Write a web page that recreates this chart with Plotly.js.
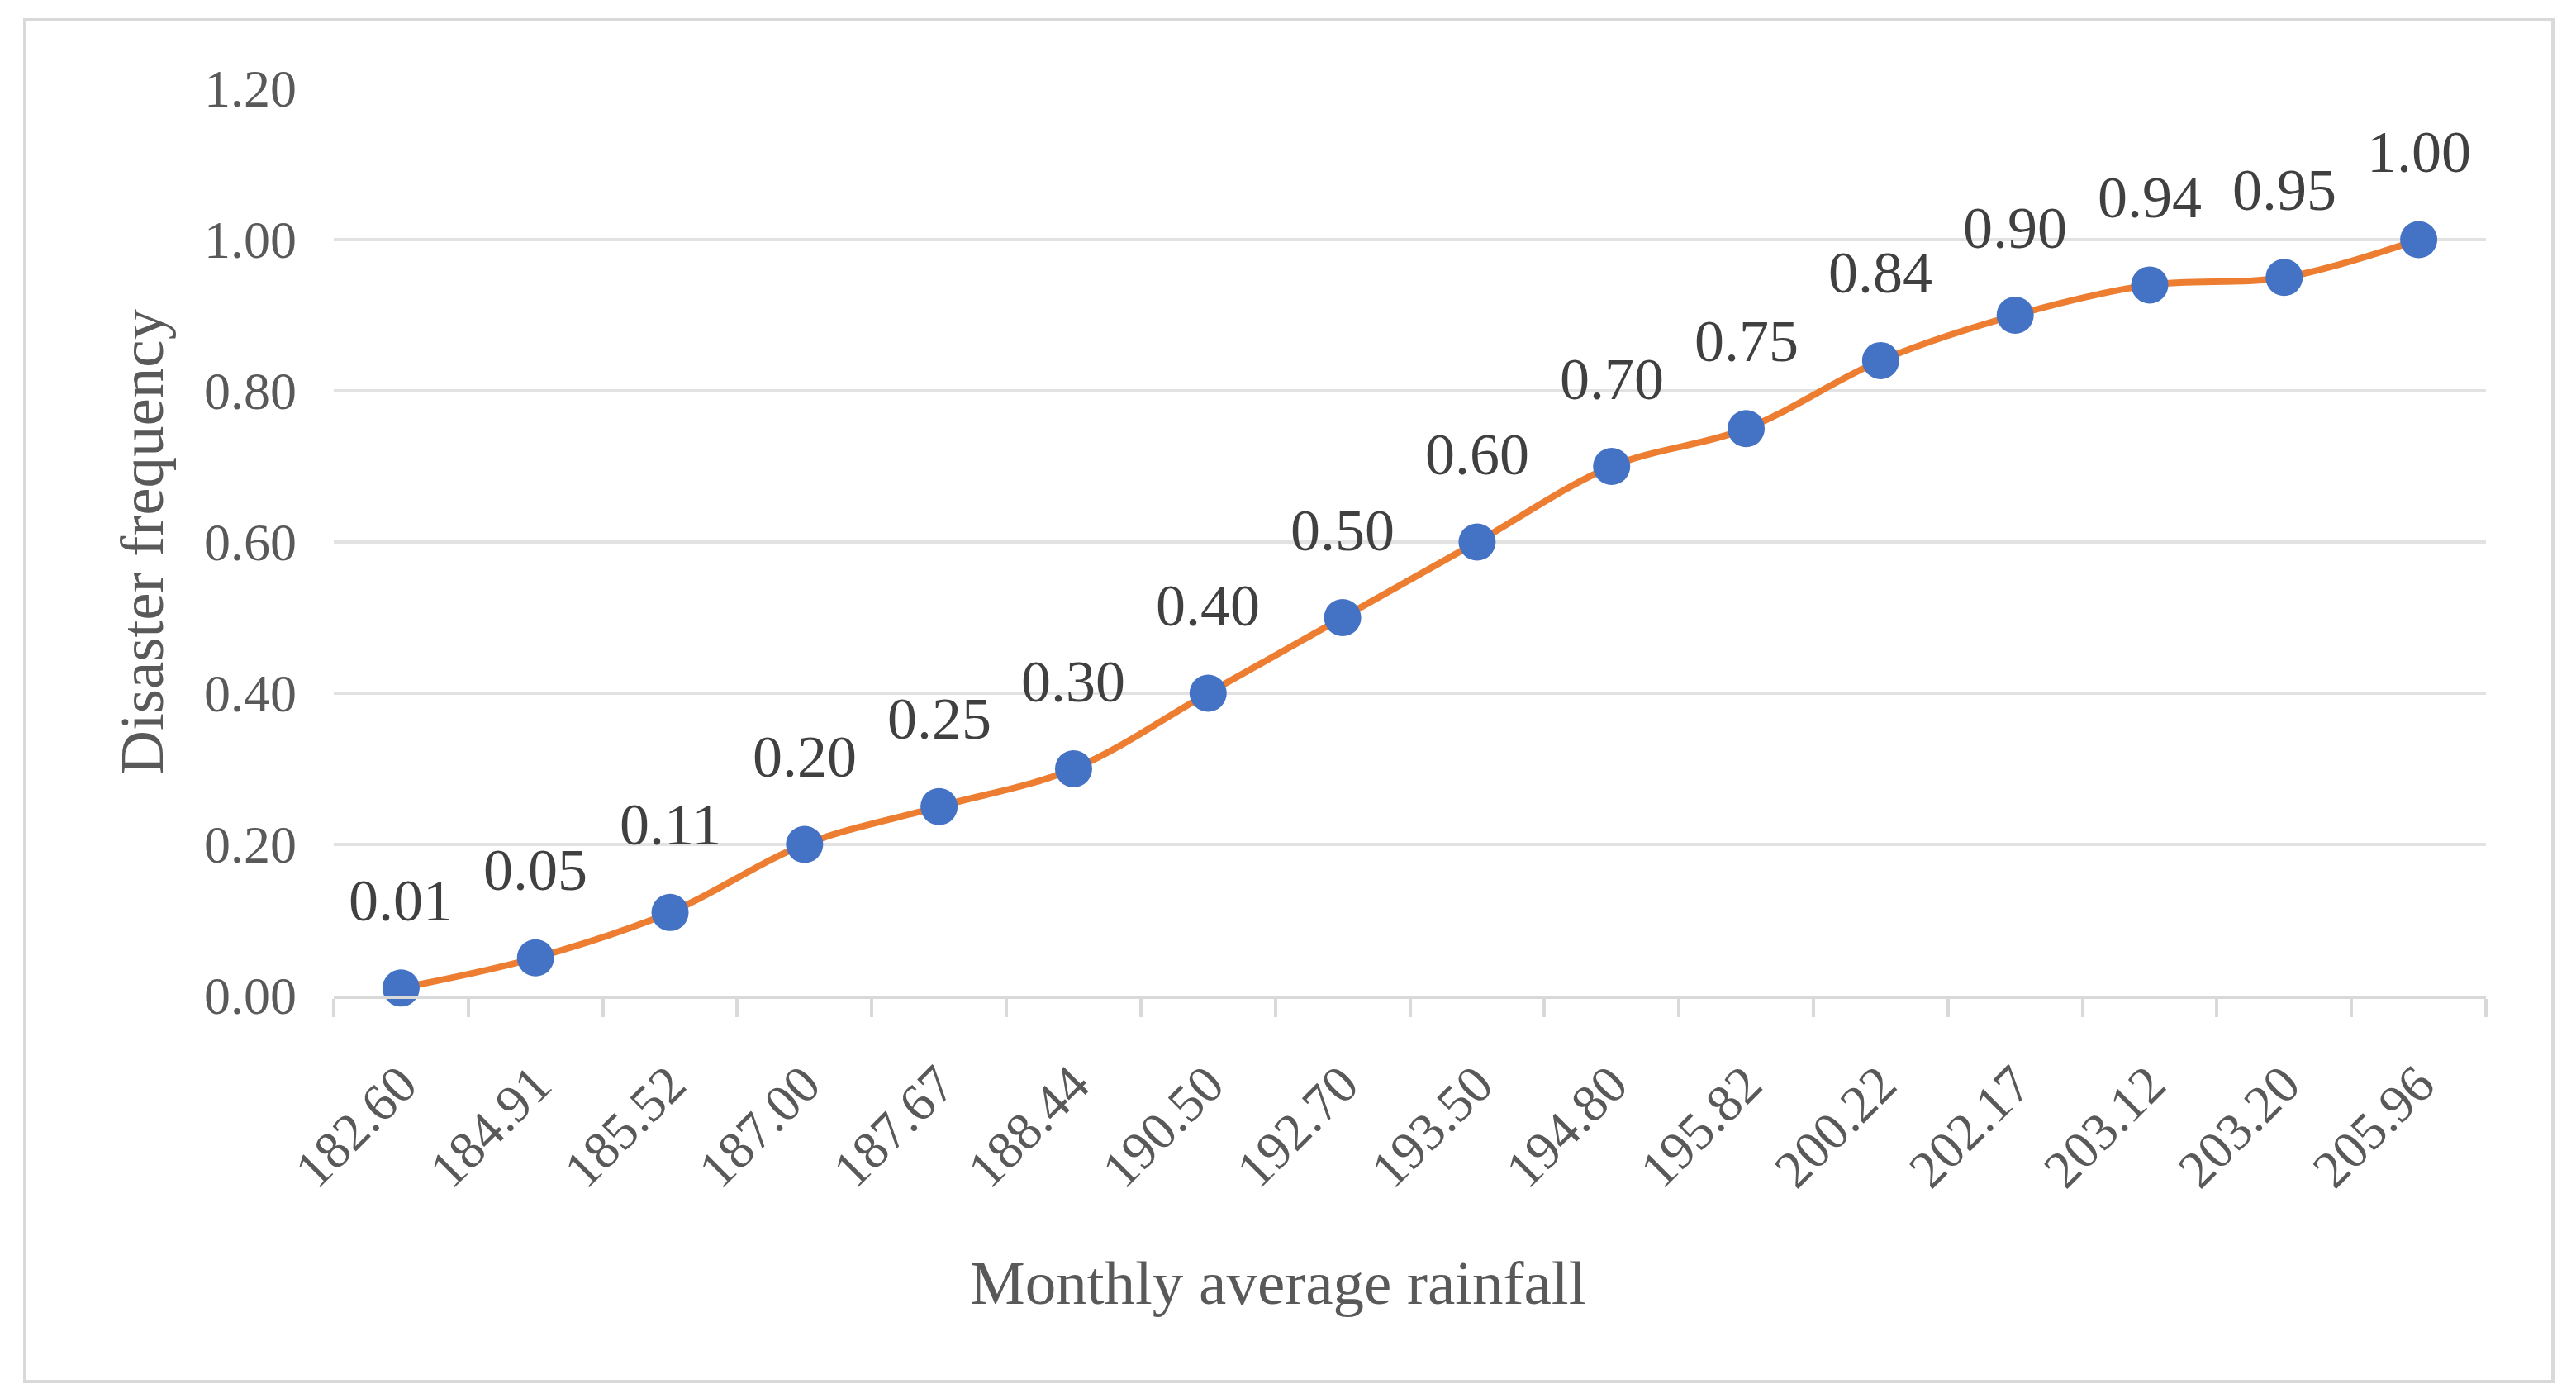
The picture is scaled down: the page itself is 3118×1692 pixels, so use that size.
<!DOCTYPE html>
<html>
<head>
<meta charset="utf-8">
<script src="https://cdn.plot.ly/plotly-3.0.1.min.js"></script>
<style>
html,body{margin:0;padding:0;background:#fff;}
#chart{width:3118px;height:1692px;}
</style>
</head>
<body>
<div id="chart"></div>
<script>
const categories = ["182.60","184.91","185.52","187.00","187.67","188.44","190.50","192.70","193.50","194.80","195.82","200.22","202.17","203.12","203.20","205.96"];
const frequency = [0.01,0.05,0.11,0.20,0.25,0.30,0.40,0.50,0.60,0.70,0.75,0.84,0.90,0.94,0.95,1.00];
const yTicks = [0,0.2,0.4,0.6,0.8,1.0,1.2];
const xTitle = "Monthly average rainfall";
const yTitle = "Disaster frequency";

const FONT = "Liberation Serif, Times New Roman, serif";

const trace = {
  x: categories,
  y: frequency,
  type: "scatter",
  mode: "lines+markers",
  line: {color: "#ED7D31", width: 8, shape: "spline", smoothing: 1},
  marker: {color: "#4472C4", size: 45},
  hoverinfo: "x+y",
  cliponaxis: false
};

const L = 404, R = 3009, T = 107, B = 1205;
const W = 3118, H = 1692;
const px = v => (v - L) / (R - L);
const py = v => (B - v) / (B - T);

const labels = categories.map((c, i) => ({
  x: i, y: frequency[i], xref: "x", yref: "y",
  text: frequency[i].toFixed(2),
  showarrow: false, yanchor: "middle", xanchor: "center",
  yshift: 106,
  font: {family: FONT, size: 72, color: "#404040"}
}));

labels.push({
  x: px(1547), y: py(1552), xref: "paper", yref: "paper",
  text: xTitle, showarrow: false, xanchor: "center", yanchor: "middle",
  font: {family: FONT, size: 75, color: "#595959"}
});

const layout = {
  width: W, height: H,
  margin: {l: L, r: W - R, t: T, b: H - B, pad: 0},
  paper_bgcolor: "#ffffff",
  plot_bgcolor: "#ffffff",
  showlegend: false,
  font: {family: FONT, color: "#595959"},
  xaxis: {
    type: "category",
    range: [-0.5, categories.length - 0.5],
    tickson: "boundaries",
    ticks: "outside", ticklen: 22, tickwidth: 4, tickcolor: "#D9D9D9",
    showline: true, linecolor: "#D9D9D9", linewidth: 4,
    showgrid: false, zeroline: false,
    tickangle: -45,
    tickfont: {family: FONT, size: 64, color: "#595959"},
    ticklabelstandoff: 40,
    automargin: false
  },
  yaxis: {
    range: [0, 1.2],
    tickvals: yTicks,
    tickformat: ".2f",
    ticks: "",
    showline: false,
    showgrid: true, gridcolor: "#E2E2E2", gridwidth: 4,
    zeroline: false,
    tickfont: {family: FONT, size: 64, color: "#595959"},
    ticklabelstandoff: 44,
    title: {text: yTitle, font: {family: FONT, size: 75, color: "#595959"}, standoff: 24},
    automargin: false
  },
  annotations: labels,
  shapes: [{
    type: "rect", xref: "paper", yref: "paper",
    x0: px(30), x1: px(3090), y0: py(1672), y1: py(24),
    line: {color: "#D9D9D9", width: 4}, fillcolor: "rgba(0,0,0,0)", layer: "below"
  }]
};

Plotly.newPlot("chart", [trace], layout, {displayModeBar: false, staticPlot: true});
</script>
</body>
</html>
